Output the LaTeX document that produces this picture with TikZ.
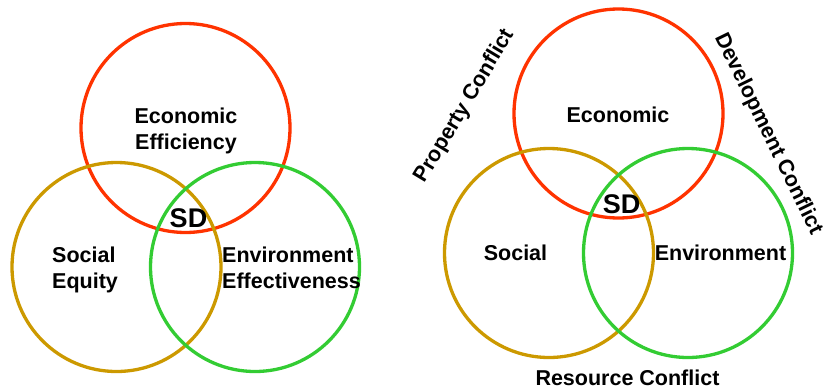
\documentclass[tikz,border=0pt]{standalone}
\usepackage{fontspec}
\setmainfont{Liberation Sans}
\definecolor{econred}{RGB}{255,51,0}
\definecolor{socgold}{RGB}{204,153,0}
\definecolor{envgreen}{RGB}{51,204,51}

\begin{document}
\begin{tikzpicture}[x=1pt,y=-1pt,
    ring/.style={line width=3.3pt},
    lbl/.style={font=\fontsize{21.5}{26}\selectfont\bfseries,inner sep=0pt},
    core/.style={font=\fontsize{27}{30}\selectfont\bfseries,inner sep=0pt}]
    \useasboundingbox (0,0) rectangle (824,389);

    % left: sustainable development
    \draw[ring,color=econred] (185.5,128) circle (104.5pt);
    \draw[ring,color=socgold] (116.5,267) circle (104.5pt);
    \draw[ring,color=envgreen] (255,267) circle (104.5pt);
        \node[lbl,anchor=base,align=center] (econL) at (186,149) {Economic\\Efficiency};
        \node[core,anchor=base] (sdL) at (188.5,227) {SD};
        \node[lbl,anchor=base west,align=left] (socL) at (52,288) {Social\\Equity};
        \node[lbl,anchor=base west,align=left] (envL) at (222,288) {Environment\\Effectiveness};

    % right: conflicts
    \draw[ring,color=econred] (618.5,113.5) circle (104.5pt);
    \draw[ring,color=socgold] (549,253) circle (104.5pt);
    \draw[ring,color=envgreen] (688,253) circle (104.5pt);
        \node[lbl,anchor=base] (econR) at (618,122) {Economic};
        \node[core,anchor=base] (sdR) at (621.5,213) {SD};
        \node[lbl,anchor=base] (socR) at (515.5,260) {Social};
        \node[lbl,anchor=base] (envR) at (720.5,260) {Environment};
        \node[lbl,anchor=base] (resR) at (627.5,385) {Resource Conflict};
        \node[lbl,rotate=59] (propR) at (465,106) {Property Conflict};
        \node[lbl,rotate=-64] (devR) at (768,134) {Development Conflict};
\end{tikzpicture}
\end{document}
